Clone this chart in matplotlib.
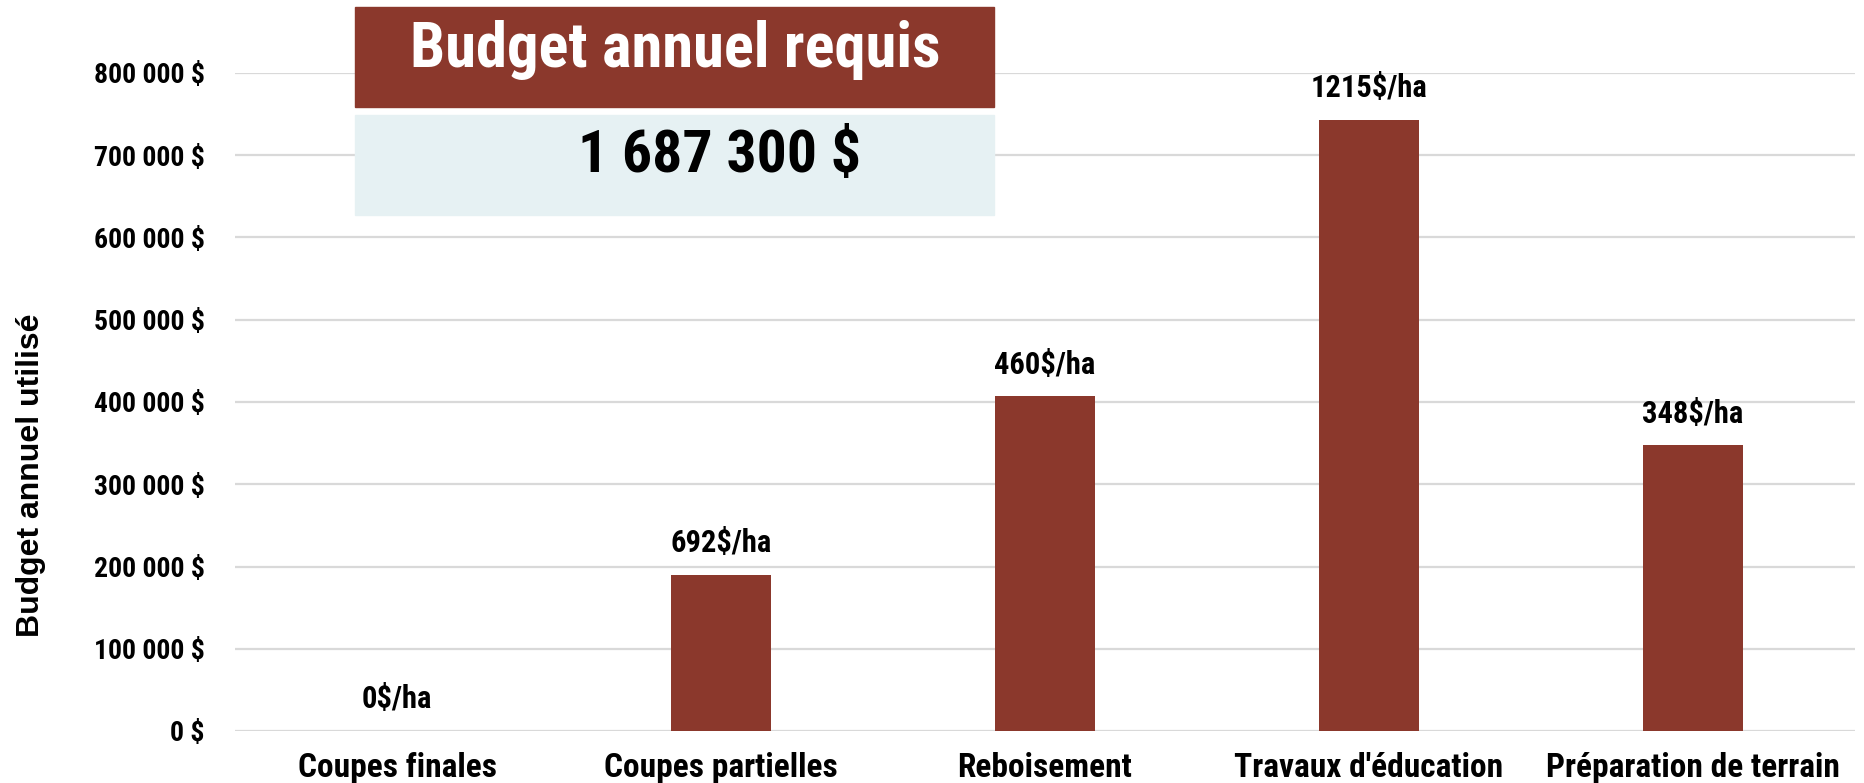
import matplotlib
matplotlib.use("Agg")
import matplotlib.pyplot as plt
from matplotlib.patches import Rectangle
from matplotlib.ticker import FuncFormatter

categories = ["Coupes finales", "Coupes partielles", "Reboisement",
              "Travaux d'éducation", "Préparation de terrain"]
budget = [0, 190000, 407000, 743000, 347300]
per_ha = ["0$/ha", "692$/ha", "460$/ha", "1215$/ha", "348$/ha"]
y_ticks = [0, 100000, 200000, 300000, 400000, 500000, 600000, 700000, 800000]
box_title = "Budget annuel requis"
box_value = "1 687 300 $"
y_label = "Budget annuel utilisé"

BAR = "#8b382c"
LIGHT = "#e6f1f3"
GRID = "#d9d9d9"
NARROW = ["Roboto Condensed", "Liberation Sans", "DejaVu Sans"]

W, H = 1864, 783
fig = plt.figure(figsize=(W / 100, H / 100), dpi=100)
ax = fig.add_axes([235 / W, (H - 731) / H, (1855 - 235) / W, (731 - 73) / H])

x = range(len(categories))
ax.bar(x, budget, width=0.31, color=BAR, zorder=3)
ax.set_xlim(-0.5, len(categories) - 0.5)
ax.set_ylim(0, 800000)
ax.set_yticks(y_ticks)
ax.yaxis.set_major_formatter(FuncFormatter(
    lambda v, p: "{:,.0f} $".format(v).replace(",", " ")))
ax.set_xticks(list(x))
ax.set_xticklabels(categories)
ax.grid(axis="y", color=GRID, linewidth=1.6, zorder=0)
for s in ax.spines.values():
    s.set_visible(False)
ax.tick_params(axis="y", length=0, pad=22)
ax.tick_params(axis="x", length=0, pad=15)
for lab in ax.get_yticklabels():
    lab.set_fontfamily(NARROW)
    lab.set_fontweight("bold")
    lab.set_fontsize(20)
for lab in ax.get_xticklabels():
    lab.set_fontfamily(NARROW)
    lab.set_fontweight("bold")
    lab.set_fontsize(24)

for xi, v, t in zip(x, budget, per_ha):
    ax.annotate(t, (xi, v), xytext=(0, 12), textcoords="offset points",
                ha="center", va="bottom", fontsize=22, fontweight="bold",
                family=NARROW)

fig.text(31 / W, 1 - 475 / H, y_label, rotation=90, ha="center", va="center",
         fontsize=23, fontweight="bold", family="Liberation Sans")

# boxes at top-left
fig.patches.append(Rectangle((355 / W, 1 - 107 / H), (994 - 355) / W, 100 / H,
                             transform=fig.transFigure, color=BAR, zorder=5))
fig.patches.append(Rectangle((355 / W, 1 - 215 / H), (994 - 355) / W, 100 / H,
                             transform=fig.transFigure, color=LIGHT, zorder=5))
fig.text(675 / W, 1 - 50 / H, box_title, ha="center", va="center", color="white",
         fontsize=45, fontweight="bold", family=NARROW, zorder=6)
fig.text(720 / W, 1 - 156 / H, box_value, ha="center", va="center", color="black",
         fontsize=43, fontweight="bold", family=NARROW, zorder=6)

fig.savefig("out.png", dpi=100, facecolor="white")
